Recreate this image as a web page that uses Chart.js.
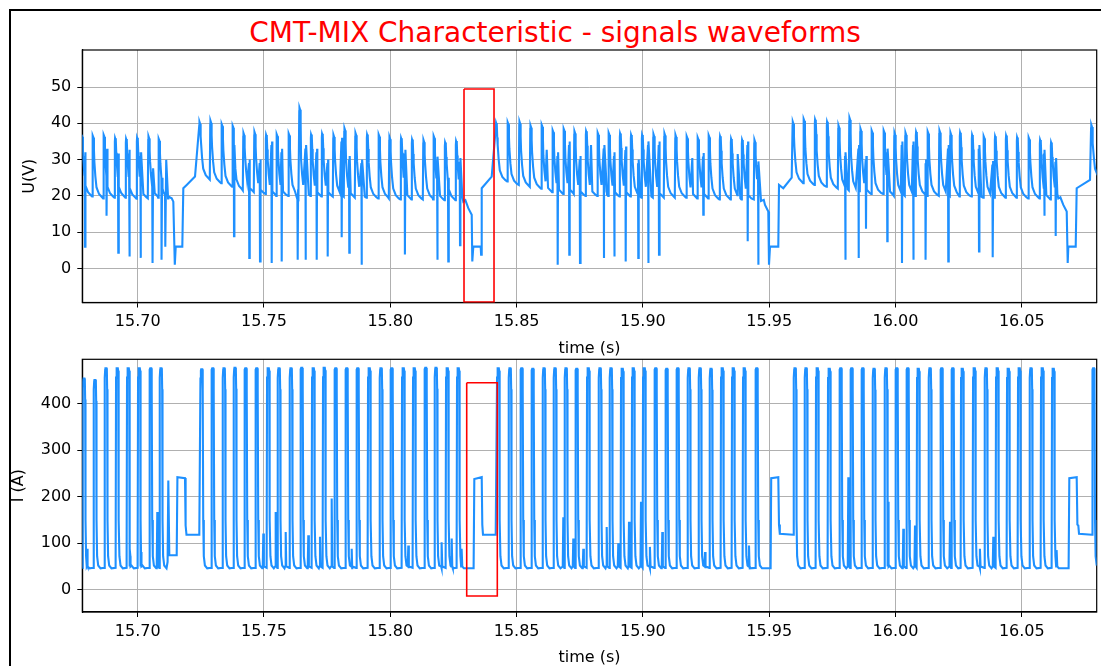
<!DOCTYPE html>
<html><head><meta charset="utf-8">
<script src="https://cdn.jsdelivr.net/npm/chart.js@4.4.0/dist/chart.umd.min.js"></script>
<style>
html,body{margin:0;padding:0;background:#fff;}
#wrap{position:relative;width:1101px;height:666px;overflow:hidden;background:#fff;}
#frame{position:absolute;left:9px;top:9px;width:1200px;height:700px;border-left:2px solid #000;border-top:2px solid #000;}
#title{position:absolute;left:0;width:1110px;top:17px;text-align:center;font-family:'DejaVu Sans';font-size:28px;line-height:32px;color:#ff0000;}
canvas{position:absolute;left:0;top:0;}
</style></head>
<body><div id="wrap"><div id="frame"></div><div id="title">CMT-MIX Characteristic - signals waveforms</div>
<canvas id="cU" width="1101" height="666" style="width:1101px;height:666px"></canvas>
<canvas id="cI" width="1101" height="666" style="width:1101px;height:666px"></canvas></div>
<script>
// ---- data ----
const xTicks = [15.70, 15.75, 15.80, 15.85, 15.90, 15.95, 16.00, 16.05];
const uTicks = [0, 10, 20, 30, 40, 50];
const iTicks = [0, 100, 200, 300, 400];

// arc pulse times (s), current peak (A), voltage peak (V), voltage level after pulse (V)
const pulseT = [15.67874, 15.68310, 15.68745, 15.69193, 15.69628, 15.70064, 15.70515, 15.70923,
 15.72534, 15.72969, 15.73417, 15.73852, 15.74276, 15.74711, 15.75171, 15.75594, 15.76069, 15.76493, 15.76952, 15.77387, 15.77839, 15.78274, 15.78710, 15.79169, 15.79632, 15.80056, 15.80515, 15.80950, 15.81402, 15.81809, 15.82257, 15.82692,
 15.84276, 15.84739, 15.85202, 15.85638, 15.86085, 15.86520, 15.86956, 15.87379, 15.87839, 15.88302, 15.88737, 15.89185, 15.89620, 15.90056, 15.90507, 15.90942, 15.91378, 15.91825, 15.92261, 15.92696, 15.93143, 15.93579, 15.94014, 15.94505,
 15.96022, 15.96457, 15.96904, 15.97379, 15.97831, 15.98266, 15.98702, 15.99149, 15.99624, 16.00048, 16.00483, 16.00903, 16.01366, 16.01829, 16.02265, 16.02645, 16.03120, 16.03583, 16.04030, 16.04466, 16.04901, 16.05364, 16.05812, 16.06247,
 16.07839];
const pulseI = [454, 451, 476, 476, 476, 476, 476, 476,
 474, 476, 476, 477, 476, 476, 476, 476, 476, 477, 476, 477, 476, 476, 476, 476, 476, 476, 476, 476, 477, 477, 476, 476,
 476, 476, 476, 475, 476, 476, 476, 475, 476, 476, 476, 475, 476, 476, 476, 475, 476, 476, 476, 475, 476, 476, 476, 476,
 476, 476, 476, 475, 476, 476, 476, 475, 476, 476, 476, 475, 476, 476, 476, 475, 476, 476, 476, 475, 476, 476, 476, 475,
 476];
const vPeak = [36.8, 36.6, 36.8, 35.9, 35.7, 36, 36.4, 35.7,
 40.4, 40.7, 39.8, 39.3, 37.3, 37.6, 36.8, 37, 37.2, 44.3, 36.9, 37.1, 36.8, 38.6, 37.3, 36.9, 36.9, 36.2, 35.9, 35.5, 35.4, 36.5, 34.7, 35.1,
 40.1, 40.3, 40.5, 39.4, 39.6, 38.1, 38.5, 37.8, 37.8, 37.4, 37.4, 37.2, 36.8, 36.8, 37, 37.2, 36.8, 36.4, 36.1, 36.7, 36.4, 35.7, 35.4, 35.4,
 40.4, 41.2, 41, 40.4, 39.4, 41.5, 38.5, 38, 38, 37.4, 37.4, 37.6, 37.7, 38, 37.4, 37.4, 36.8, 36.4, 36.4, 36.6, 36.1, 36.1, 35.4, 34.7,
 39.6];
const vTail = [19.8, 19.3, 19.5, 19.5, 19.2, 19.3, 19.5, 19.0,
 24.5, 23.5, 22.5, 21.5, 21, 20.5, 20, 20, 20, 20, 19.8, 19.8, 19.8, 19.5, 19.5, 19.3, 19.3, 19, 19, 19, 19, 18.8, 18.8, 18.5,
 24, 23, 22.5, 22, 21, 20.5, 20.5, 20, 20, 20, 19.8, 19.8, 19.5, 19.5, 19.5, 19.5, 19.5, 19.3, 19.3, 19, 19, 19, 19, 18.6,
 23.5, 23, 22.5, 22, 21.5, 21, 20.5, 20.5, 20, 20, 20, 20, 20, 20, 19.8, 19.8, 19.5, 19.5, 19.5, 19.5, 19.3, 19.3, 19, 19.3,
 24.5];

// voltage dips (short contacts): time, minimum, level right after
const dipT = [15.67914, 15.68773, 15.69232, 15.69668, 15.70119, 15.70594, 15.70950,
 15.73813, 15.74418, 15.74842, 15.75305, 15.75701, 15.76334, 15.76651, 15.77087, 15.77522, 15.78076, 15.78377, 15.78868, 15.80582, 15.81861, 15.82296, 15.82760,
 15.86627, 15.87086, 15.87510, 15.88460, 15.88868, 15.89319, 15.89818, 15.90214, 15.90638, 15.92391, 15.94149, 15.94569,
 15.98013, 15.98543, 15.98832, 15.99675, 16.00257, 16.00705, 16.01196, 16.02090, 16.03306, 16.03848, 16.05891, 16.06342];
const dipV = [6, 14.5, 4.3, 3.3, 2.9, 1.5, 2.4,
 8.9, 2.9, 1.9, 1.5, 1.9, 2.4, 2.4, 2.4, 3.3, 8.6, 4.3, 1.0, 3.8, 2.4, 1.9, 6.4,
 1.0, 3.8, 1.5, 2.9, 3.3, 1.9, 2.9, 1.5, 3.8, 14.8, 7.5, 1.0,
 2.4, 2.9, 10.9, 7.5, 1.5, 2.4, 2.4, 1.9, 4.7, 3.1, 14.5, 8.9];
const dipR = [32, 33, 31.7, 32.7, 32, 27.6, 25,
 34, 30, 30, 35, 33, 20, 34, 33, 30, 36, 31, 30, 32.7, 30.8, 25, 30.4,
 32, 35, 31, 34, 32, 33.6, 30, 35, 35, 31.8, 35, 29.5,
 32, 34, 31, 33, 35, 35, 30, 34, 34, 29.6, 32.7, 30.4];
// secondary voltage bumps
const bumpT = [15.86192, 15.87946, 15.91956, 15.93753];
const bumpV = [32.7, 34, 30.4, 31.5];

// small current blips between pulses
const blipT = [15.68005, 15.69695, 15.70131, 15.70776,
 15.74973, 15.75463, 15.75859, 15.76754, 15.77217, 15.77680, 15.78472, 15.80713, 15.82035, 15.82431, 15.82827,
 15.86849, 15.87245, 15.87641, 15.88567, 15.89026, 15.89450, 15.89925, 15.90281, 15.90768, 15.92459, 15.94200,
 15.98132, 15.99715, 16.00309, 16.00772, 16.02158, 16.03345, 16.03872, 16.06382];
const blipI = [88, 88, 81, 167,
 121, 167, 124, 117, 114, 196, 88, 95, 102, 110, 88,
 156, 110, 88, 135, 100, 146, 189, 92, 124, 81, 95,
 242, 189, 131, 138, 146, 88, 114, 85];

// short-circuit phases
const scIT = [15.71152, 15.71184, 15.71212, 15.71251, 15.71544, 15.71572, 15.71873, 15.71897, 15.71932, 15.72439,
 15.82957, 15.83298, 15.83326, 15.83619, 15.83642, 15.83670, 15.84173,
 15.94715, 15.95056, 15.95079, 15.95360, 15.95388, 15.95420, 15.95954,
 16.06512, 16.06853, 16.06881, 16.07173, 16.07201, 16.07237, 16.07265, 16.07779];
const scIV = [46, 60, 235, 74, 74, 242, 240, 138, 118, 118,
 46, 46, 238, 242, 140, 118, 118,
 46, 46, 240, 242, 140, 120, 118,
 46, 46, 240, 242, 140, 138, 120, 118];
const scVT = [15.71022, 15.71093, 15.71129, 15.71212, 15.71346, 15.71410, 15.71469, 15.71505, 15.71766, 15.71806, 15.71940, 15.72269,
 15.82890, 15.83088, 15.83223, 15.83246, 15.83286, 15.83579, 15.83595, 15.83619, 15.84014,
 15.94676, 15.94834, 15.94964, 15.94992, 15.95032, 15.95360, 15.95388, 15.95558, 15.95891,
 16.06445, 16.06643, 16.06778, 16.06817, 16.06841, 16.07134, 16.07173, 16.07700];
const scVV = [21, 6, 29.9, 19.8, 19.3, 18.4, 1.0, 6.0, 6.0, 22.1, 23.0, 25.3,
 18.4, 16.6, 14.8, 1.9, 6.0, 6.0, 3.8, 22.1, 25.3,
 18.6, 17.5, 15.7, 1.0, 6.0, 6.0, 23, 22.1, 25,
 19.3, 17.5, 15.7, 1.5, 6.0, 6.0, 22.1, 24.4];

// highlighted windows (red boxes)
const boxUT = [15.82918, 15.84106], boxUV = [-9.3, 49.45];
const boxIT = [15.83025, 15.84236], boxIV = [-13.5, 445.2];

const xMin = 15.67807, xMax = 16.07965;

// ---- build polylines from the read values ----
function buildCurrent(){
  const p=[];
  pulseT.forEach((c,i)=>{
    const pk=pulseI[i];
    if(i===0 || c-pulseT[i-1] < 0.008) p.push([c-0.00067,47]);
    p.push([c-0.00050,pk-20],[c-0.00032,pk-3],[c-0.0002,pk],[c+0.0002,pk],[c+0.00034,pk-5],[c+0.00046,pk-45],[c+0.0006,150],[c+0.00083,72],[c+0.00127,52],[c+0.00218,46]);
  });
  blipT.forEach((t,i)=>p.push([t-0.00022,50],[t,blipI[i]],[t+0.00022,50]));
  scIT.forEach((t,i)=>p.push([t,scIV[i]]));
  p.sort((a,b)=>a[0]-b[0]);
  return p.map(q=>({x:q[0],y:q[1]}));
}
function buildVoltage(){
  const p=[];
  pulseT.forEach((c,i)=>{
    const P=vPeak[i], T=vTail[i];
    if(i===0) p.push([c-0.00115,T]);
    else if(c-pulseT[i-1] < 0.008) p.push([c-0.00115,vTail[i-1]]);
    p.push([c-0.00097,P-1],[c-0.00088,P],[c-0.0006,P-0.6],[c-0.00042,P-4],[c-0.00025,T+10],[c+0.00015,T+6],[c+0.0006,T+3],[c+0.0016,T+1.2],[c+0.0028,T+0.3]);
  });
  dipT.forEach((t,i)=>p.push([t-0.00012,dipR[i]-1],[t,dipV[i]],[t+0.00016,dipR[i]]));
  bumpT.forEach((t,i)=>p.push([t,bumpV[i]]));
  scVT.forEach((t,i)=>p.push([t,scVV[i]]));
  p.sort((a,b)=>a[0]-b[0]);
  return p.map(q=>({x:q[0],y:q[1]}));
}
function box(tx,vy){
  return [{x:tx[0],y:vy[1]},{x:tx[1],y:vy[1]},{x:tx[1],y:vy[0]},{x:tx[0],y:vy[0]},{x:tx[0],y:vy[1]}];
}

Chart.defaults.font.family = "'DejaVu Sans'";
Chart.defaults.color = '#000';
const FS = 16;

const framePlugin = {id:'frame', beforeDatasetsDraw(ch){
  const a=ch.chartArea, c=ch.ctx; c.save(); c.strokeStyle='#000'; c.lineWidth=1.2;
  c.strokeRect(a.left,a.top,a.right-a.left,a.bottom-a.top); c.restore();
}};

function makeChart(id, data, boxData, yMin, yMax, yTicks, yTitle, pad, xH, yTitlePad, xTitlePad){
  return new Chart(document.getElementById(id), {
    type:'line',
    data:{datasets:[
      {data:boxData, borderColor:'#ff0000', borderWidth:1.6, pointRadius:0, tension:0, fill:false},
      {data:data, borderColor:'#1e90ff', borderWidth:2.1, pointRadius:0, tension:0, fill:false}
    ]},
    options:{
      responsive:false, animation:false, devicePixelRatio:1,
      layout:{padding:pad},
      plugins:{legend:{display:false}, tooltip:{enabled:false}},
      scales:{
        x:{type:'linear', min:xMin, max:xMax,
          afterBuildTicks:s=>{s.ticks=xTicks.map(v=>({value:v}));},
          afterFit:s=>{s.height=xH;},
          ticks:{callback:v=>Number(v).toFixed(2), font:{size:FS}, color:'#000', padding:5, maxRotation:0, autoSkip:false},
          grid:{color:'#b0b0b0', lineWidth:1, tickColor:'#000', tickLength:5, drawTicks:true},
          border:{display:true, color:'#000', width:1.2},
          title:{display:true, text:'time (s)', font:{size:FS}, color:'#000', padding:{top:0,bottom:xTitlePad}}
        },
        y:{type:'linear', min:yMin, max:yMax,
          afterBuildTicks:s=>{s.ticks=yTicks.map(v=>({value:v}));},
          afterFit:s=>{s.width=72.3;},
          ticks:{font:{size:FS}, color:'#000', padding:6},
          grid:{color:'#b0b0b0', lineWidth:1, tickColor:'#000', tickLength:5, drawTicks:true},
          border:{display:true, color:'#000', width:1.2},
          title:{display:true, text:yTitle, font:{size:FS}, color:'#000', padding:{top:yTitlePad,bottom:0}}
        }
      }
    },
    plugins:[framePlugin]
  });
}

makeChart('cU', buildVoltage(), box(boxUT,boxUV), -9.4, 60.2, uTicks, 'U(V)',
  {left:10,right:4.3,top:50,bottom:306}, 57.5, 10.4, 1.9);
makeChart('cI', buildCurrent(), box(boxIT,boxIV), -48, 495.5, iTicks, 'I (A)',
  {left:10,right:4.3,top:359.3,bottom:0}, 54, -1.1, -1.6);
</script>
</body></html>
